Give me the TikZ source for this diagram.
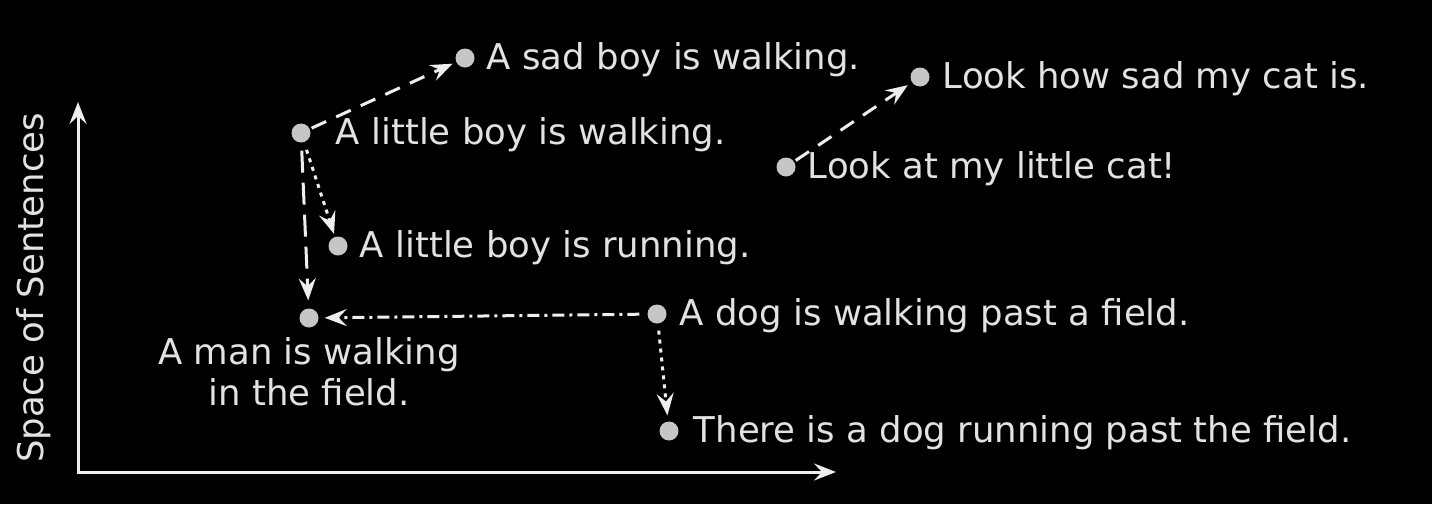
\documentclass[tikz,border=0pt]{standalone}
\usepackage{fontspec}
\setmainfont{DejaVu Sans}
\usepackage{xcolor}
\usetikzlibrary{arrows.meta, positioning}

\definecolor{txtgray}{HTML}{E2E2E2}
\definecolor{dotgray}{HTML}{C6C6C6}
\definecolor{linegray}{HTML}{EEEEEE}

\tikzset{
    dot/.style={circle, fill=dotgray, minimum size=19pt, inner sep=0pt},
    sent/.style={text=txtgray, inner sep=0pt, text height=27pt, text depth=8pt,
        font=\fontsize{35.5}{41}\selectfont},
    link/.style={->, draw=linegray, line width=3pt, shorten >=4pt, shorten <=4pt},
}

\begin{document}
\begin{tikzpicture}[x=1pt, y=-1pt, >={Stealth[length=22pt, width=17pt, inset=8pt]}]
    % Hintergrund und Rahmen
    \fill[black] (0,0) rectangle (1432,504);
    \useasboundingbox (0,0) rectangle (1432,504);

    % Achsen
    \coordinate (O) at (78,472);
    \coordinate (ytop) at (78,102);
    \coordinate (xend) at (836,472);
    \draw[<->, draw=linegray, line width=3pt] (ytop) -- (O) -- (xend);
    \node[sent, rotate=90, anchor=base, text height=, text depth=] (ylab) at (43,288) {Space of Sentences};

    % Saetze als Punkte
    \node[dot] (sad) at (465,58) {};
    \node[dot] (boyw) at (301,133) {};
    \node[dot] (boyr) at (338,246) {};
    \node[dot] (man) at (309,318) {};
    \node[dot] (dogw) at (657,314) {};
    \node[dot] (dogr) at (669,431) {};
    \node[dot] (catl) at (786,167) {};
    \node[dot] (cats) at (920,77) {};

    % Beschriftungen
    \node[sent, right=12pt of sad, yshift=-2pt] (sadT) {A sad boy is walking.};
    \node[sent, right=25pt of boyw, yshift=-2pt] (boywT) {A little boy is walking.};
    \node[sent, right=12pt of boyr, yshift=-2pt] (boyrT) {A little boy is running.};
    \node[sent, right=13pt of dogw, yshift=-2pt] (dogwT) {A dog is walking past a field.};
    \node[sent, right=15pt of dogr, yshift=-2pt] (dogrT) {There is a dog running past the field.};
    \node[sent, right=12pt of catl, yshift=-2pt] (catlT) {Look at my little cat!};
    \node[sent, right=13pt of cats, yshift=-2pt] (catsT) {Look how sad my cat is.};
    \node[sent, below=10pt of man, align=center, text height=, text depth=] (manT) {A man is walking\\in the field.};

    % Verbindungen
    \draw[link, dash pattern=on 16pt off 11pt, shorten <=2pt] (boyw) -- (sad);
    \draw[link, dash pattern=on 22pt off 10pt, shorten <=8pt, shorten >=8pt] (boyw) -- (man);
    \draw[link, dash pattern=on 4pt off 5pt, shorten <=8pt, shorten >=3pt] (boyw) -- (boyr);
    \draw[link, dash pattern=on 12pt off 5pt on 3pt off 5pt, shorten <=8pt, shorten >=6pt] (dogw) -- (man);
    \draw[link, dash pattern=on 4pt off 5pt, shorten <=7pt, shorten >=6pt] (dogw) -- (dogr);
    \draw[link, dash pattern=on 16pt off 11pt, shorten <=2pt, shorten >=5pt] (catl) -- (cats);
\end{tikzpicture}
\end{document}
